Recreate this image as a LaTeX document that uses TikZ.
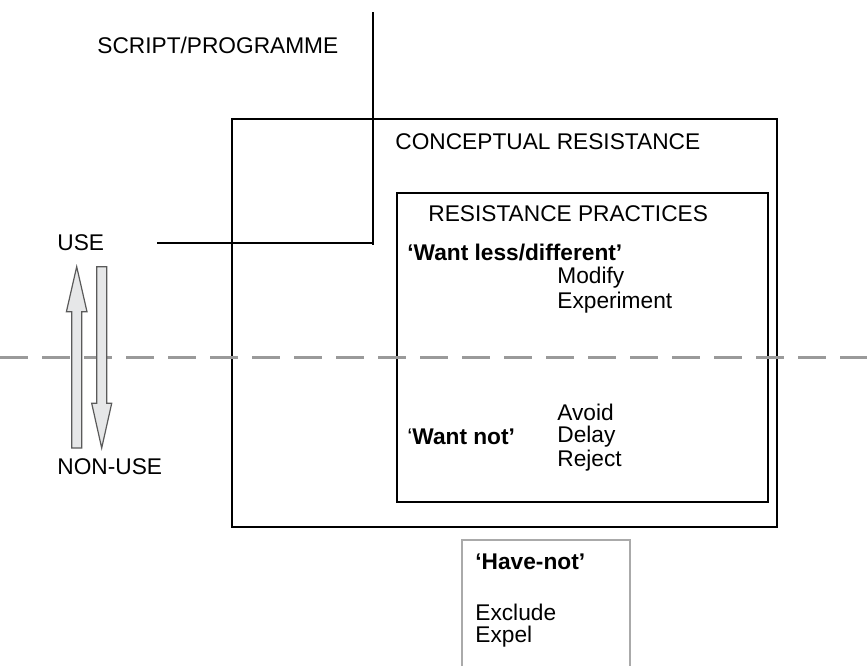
\documentclass[tikz,border=0pt]{standalone}
\usepackage{fontspec}
\setmainfont{Liberation Sans}
\usetikzlibrary{fit}
\definecolor{arrowfill}{HTML}{E6E7E8}
\definecolor{arrowedge}{HTML}{5A5A5A}
\definecolor{dashgray}{HTML}{9A9A9A}
\definecolor{lightbox}{HTML}{AAAAAA}
\begin{document}
\begin{tikzpicture}[x=0.5pt,y=-0.5pt,
  lbl/.style={anchor=west,inner sep=0pt,font=\fontsize{11.35}{13.6}\selectfont},
  frame/.style={draw,line width=0.7pt,inner sep=0pt},
  link/.style={line width=0.7pt},
  grayarrow/.style={fill=arrowfill,draw=arrowedge,line width=0.6pt,line join=miter},
  divider/.style={draw=dashgray,line width=1.5pt,dash pattern=on 14pt off 7pt}]
\useasboundingbox (0,0) rectangle (867,666);

% frames
\node[frame,fit={(232,119) (777,527)}] (outer) {};
\node[frame,fit={(397,193) (768,502)}] (inner) {};

% use / non-use divider
\draw[divider] (0,357) -- (867,357);

% labels
\node[lbl] (script) at (97,45) {SCRIPT/PROGRAMME};
\node[lbl] (concept) at (395,142) {CONCEPTUAL RESISTANCE};
\node[lbl] (practices) at (428,214) {RESISTANCE PRACTICES};
\node[lbl] (wantless) at (407,252) {\textbf{‘Want less/different’}};
\node[lbl] (modify) at (557,278) {Modify};
\node[lbl] (experiment) at (557,303) {Experiment};
\node[lbl] (avoid) at (557,412) {Avoid};
\node[lbl] (delay) at (557,437) {Delay};
\node[lbl] (reject) at (557,461) {Reject};
\node[lbl] (wantnot) at (407,437) {‘\textbf{Want not’}};
\node[lbl] (use) at (57,243) {USE};
\node[lbl] (nonuse) at (57,467) {NON-USE};
\node[lbl] (havenot) at (475,562) {\textbf{‘Have-not’}};
\node[lbl] (exclude) at (475,612) {Exclude};
\node[lbl] (expel) at (475,637) {Expel};

% script line reaching down to the use level
\coordinate (scripttop) at (373,12);
\coordinate (scriptcorner) at (373,243);
\coordinate (usestart) at (157,243);
\draw[link] (scripttop) -- (373,245);
\draw[link] (usestart) -- (scriptcorner);

% have-not box, open at the bottom
\draw[lightbox,line width=0.6pt] (462,666) -- (462,540) -- (630,540) -- (630,666);

% up and down arrows between use and non-use
\draw[grayarrow] (76.7,266.7) -- (87,311.7) -- (81.7,311.7) -- (81.7,448)
  -- (71.7,448) -- (71.7,311.7) -- (66.4,311.7) -- cycle;
\draw[grayarrow] (101.7,448) -- (111.7,403.3) -- (106.7,403.3) -- (106.7,266.7)
  -- (96.7,266.7) -- (96.7,403.3) -- (91.7,403.3) -- cycle;
\end{tikzpicture}
\end{document}
